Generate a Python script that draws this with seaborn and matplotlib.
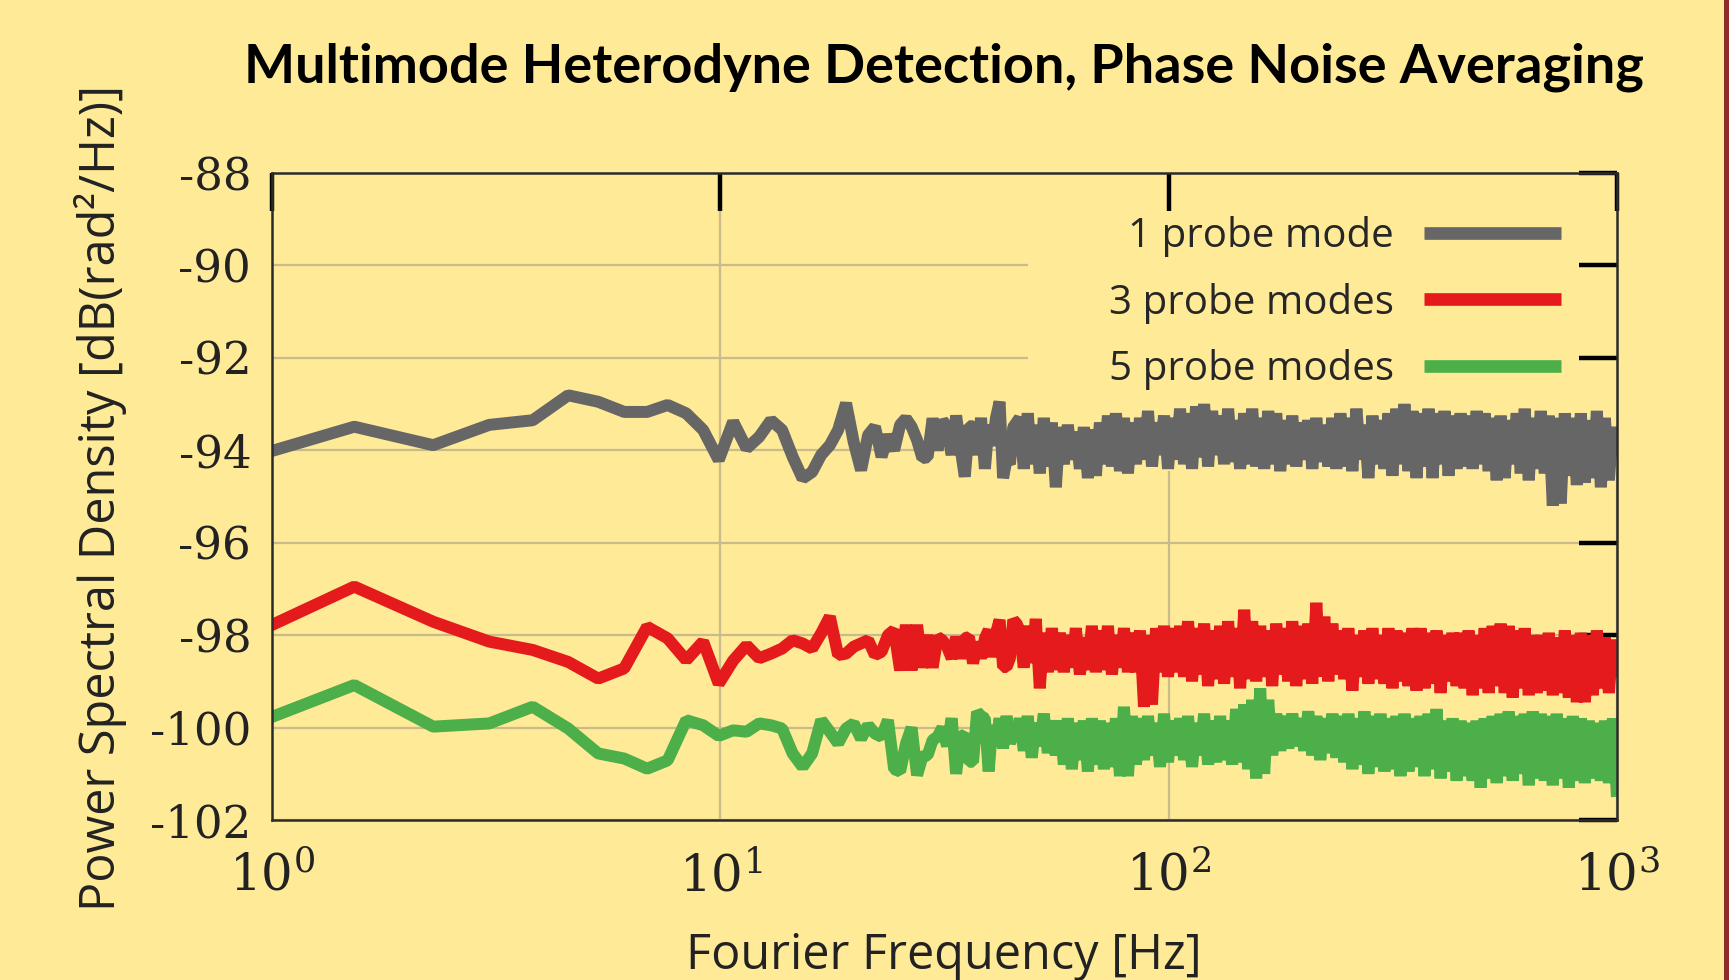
import numpy as np
import pandas as pd
import matplotlib
matplotlib.use("Agg")
import matplotlib.pyplot as plt
import seaborn as sns
from matplotlib.patches import Rectangle
from matplotlib.ticker import FixedLocator, FixedFormatter, NullLocator

# ---------------- data ----------------
BIN_HZ = 100000 / 131072          # FFT bin width [Hz]
low_bins = np.arange(1, 61)        # individual bins (k = 1 .. 60)
high_bins = np.geomspace(61, 1310, 150)   # decimated bins up to ~1 kHz

series_labels = ["1 probe mode", "3 probe modes", "5 probe modes"]
series_colors = ["#666666", "#E41A1C", "#4DAF4A"]

gray_low = [-94.35, -93.49, -93.89, -93.45, -93.35, -92.81, -92.95, -93.17, -93.17, -93.02,
            -93.20, -93.56, -94.21, -93.38, -93.96, -93.71, -93.35, -93.56, -94.14, -94.61,
            -94.47, -94.10, -93.89, -93.56, -92.98, -93.82, -94.43, -93.67, -93.49, -94.14,
            -93.67, -94.00, -93.45, -93.31, -93.49, -93.78, -94.17, -94.15, -93.31, -94.00,
            -93.35, -93.50, -94.10, -93.25, -93.95, -94.57, -93.48, -93.48, -94.10, -93.30,
            -94.40, -93.45, -93.90, -93.30, -92.95, -94.60, -94.20, -94.30, -93.50, -93.40]
gray_high = [-93.30, -94.40, -93.20, -94.30, -93.45, -94.50, -93.30, -94.35, -93.40, -94.80,
             -93.50, -94.30, -93.45, -94.20, -93.60, -94.40, -93.50, -94.60, -93.55, -94.55,
             -93.40, -94.30, -93.25, -94.35, -93.20, -94.45, -93.30, -94.50, -93.40, -94.30,
             -93.30, -94.20, -93.15, -94.35, -93.40, -94.10, -93.25, -94.40, -93.30, -94.20,
             -93.10, -94.30, -93.20, -94.40, -93.05, -94.15, -93.00, -94.35, -93.15, -94.10,
             -93.25, -94.30, -93.10, -94.25, -93.35, -94.40, -93.20, -94.30, -93.10, -94.35,
             -93.30, -94.40, -93.15, -94.30, -93.20, -94.45, -93.35, -94.30, -93.25, -94.35,
             -93.40, -94.20, -93.35, -94.40, -93.30, -94.25, -93.45, -94.35, -93.30, -94.40,
             -93.20, -94.35, -93.30, -94.45, -93.10, -94.20, -93.45, -94.60, -93.25, -94.30,
             -93.35, -94.40, -93.20, -94.55, -93.10, -94.30, -93.00, -94.45, -93.15, -94.60,
             -93.20, -94.35, -93.10, -94.60, -93.20, -94.30, -93.15, -94.55, -93.25, -94.40,
             -93.20, -94.35, -93.25, -94.40, -93.15, -94.30, -93.20, -94.45, -93.30, -94.65,
             -93.25, -94.60, -93.35, -94.30, -93.20, -94.50, -93.10, -94.65, -93.30, -94.40,
             -93.15, -94.50, -93.25, -95.20, -93.30, -95.15, -93.20, -94.55, -93.30, -94.75,
             -93.20, -94.70, -93.35, -94.60, -93.15, -94.80, -93.30, -94.65, -93.50, -94.10]

red_low = [-98.31, -96.95, -97.71, -98.14, -98.32, -98.58, -98.94, -98.72, -97.82, -98.07,
           -98.54, -98.14, -99.05, -98.55, -98.22, -98.50, -98.40, -98.29, -98.11, -98.18,
           -98.29, -97.96, -97.60, -98.43, -98.40, -98.25, -98.18, -98.11, -98.43, -98.36,
           -98.00, -97.89, -98.76, -97.78, -98.76, -97.78, -98.70, -98.00, -98.70, -98.04,
           -98.11, -98.25, -98.50, -98.04, -98.50, -98.07, -98.04, -98.61, -98.15, -98.50,
           -98.07, -97.89, -98.47, -97.96, -97.67, -98.69, -98.69, -98.50, -97.67, -97.75]
red_high = [-97.90, -98.70, -97.80, -98.60, -97.65, -99.15, -97.95, -98.80, -97.85, -98.75,
            -97.95, -98.80, -98.00, -98.70, -97.85, -98.85, -98.05, -98.75, -97.80, -98.80,
            -97.90, -98.75, -97.80, -98.85, -98.00, -98.70, -97.85, -98.80, -97.95, -98.80,
            -97.90, -99.55, -98.00, -99.50, -97.85, -98.80, -97.80, -98.90, -97.85, -98.80,
            -97.80, -98.90, -97.70, -99.00, -97.85, -98.85, -97.75, -99.10, -97.90, -98.95,
            -97.80, -99.05, -97.70, -98.90, -97.85, -99.15, -97.45, -98.95, -97.70, -99.00,
            -97.80, -98.90, -97.90, -99.10, -97.75, -98.85, -97.85, -99.00, -97.70, -99.10,
            -97.80, -98.95, -97.75, -99.05, -97.30, -98.90, -97.60, -99.00, -97.75, -98.85,
            -97.90, -98.95, -97.85, -99.20, -98.00, -98.90, -97.90, -99.05, -97.85, -98.95,
            -98.00, -99.05, -97.85, -99.15, -97.90, -99.00, -97.95, -99.10, -97.85, -99.20,
            -97.85, -99.15, -97.95, -99.05, -97.90, -99.25, -98.00, -99.00, -97.95, -99.10,
            -97.95, -99.15, -97.90, -99.30, -98.00, -99.15, -97.85, -99.25, -97.80, -99.10,
            -97.75, -99.25, -97.80, -99.35, -97.90, -99.15, -97.85, -99.30, -98.00, -99.25,
            -98.00, -99.20, -97.95, -99.30, -98.05, -99.25, -97.90, -99.35, -98.00, -99.45,
            -97.95, -99.45, -98.00, -99.30, -97.90, -99.15, -98.05, -99.25, -98.10, -98.90]

green_low = [-100.21, -99.08, -99.98, -99.91, -99.55, -100.02, -100.56, -100.67, -100.89, -100.71,
             -99.84, -99.95, -100.18, -100.06, -100.09, -99.91, -99.95, -100.02, -100.56, -100.85,
             -100.56, -99.84, -100.09, -100.34, -100.02, -99.91, -100.24, -99.95, -100.13, -100.20,
             -99.84, -100.90, -100.95, -100.35, -100.00, -101.03, -100.63, -100.60, -100.27, -100.20,
             -100.00, -100.40, -99.80, -101.00, -100.20, -100.15, -100.74, -100.74, -99.66, -99.75,
             -99.80, -100.95, -99.95, -100.40, -99.80, -100.45, -99.75, -100.34, -100.13, -100.27]
green_high = [-99.80, -100.50, -99.75, -100.65, -99.90, -100.40, -99.70, -100.55, -99.85, -100.60,
              -99.85, -100.80, -99.80, -100.90, -99.90, -100.70, -99.85, -100.95, -99.80, -100.80,
              -99.85, -100.90, -99.90, -100.85, -99.80, -101.05, -99.55, -101.05, -99.75, -100.80,
              -99.80, -100.70, -99.75, -100.60, -99.90, -100.85, -99.70, -100.75, -99.85, -100.60,
              -99.80, -100.70, -99.75, -100.85, -99.90, -100.60, -99.70, -100.80, -99.85, -100.75,
              -99.75, -100.70, -99.85, -100.80, -99.60, -100.75, -99.50, -100.90, -99.40, -101.10,
              -99.15, -101.00, -99.40, -100.60, -99.70, -100.50, -99.75, -100.45, -99.70, -100.40,
              -99.80, -100.50, -99.65, -100.60, -99.75, -100.70, -99.80, -100.55, -99.70, -100.65,
              -99.75, -100.75, -99.70, -100.90, -99.80, -100.80, -99.65, -101.00, -99.75, -100.85,
              -99.70, -100.95, -99.80, -100.90, -99.75, -101.05, -99.70, -100.95, -99.80, -100.85,
              -99.75, -101.05, -99.70, -100.90, -99.60, -101.10, -99.85, -100.95, -99.80, -101.15,
              -99.85, -101.05, -99.90, -101.15, -99.85, -101.30, -99.80, -101.10, -99.75, -101.20,
              -99.70, -101.05, -99.65, -101.15, -99.75, -101.00, -99.70, -101.25, -99.65, -101.10,
              -99.70, -101.15, -99.75, -101.25, -99.70, -101.10, -99.80, -101.30, -99.75, -101.15,
              -99.80, -101.20, -99.85, -101.10, -99.90, -101.15, -99.85, -101.20, -99.80, -101.50]

x_ticks = [1, 10, 100, 1000]
x_tick_labels = ["$10^{0}$", "$10^{1}$", "$10^{2}$", "$10^{3}$"]
y_ticks = [-102, -100, -98, -96, -94, -92, -90, -88]
y_tick_labels = ["-102", "-100", "-98", "-96", "-94", "-92", "-90", "-88"]

title_text = "Multimode Heterodyne Detection, Phase Noise Averaging"
x_label = "Fourier Frequency [Hz]"
y_label = "Power Spectral Density [dB(rad\u00b2/Hz)]"

# ---------------- build frame ----------------
freqs = BIN_HZ * np.concatenate([low_bins, high_bins])
frames = []
for lab, lo, hi in zip(series_labels, [gray_low, red_low, green_low],
                       [gray_high, red_high, green_high]):
    frames.append(pd.DataFrame({"freq": freqs,
                                "psd": np.concatenate([lo, hi]),
                                "series": lab}))
df = pd.concat(frames, ignore_index=True)

# ---------------- style ----------------
BG = "#FFEA98"
sns.set_style("white")
plt.rcParams["font.family"] = ["Open Sans", "DejaVu Sans"]
plt.rcParams["mathtext.fontset"] = "dejavuserif"
plt.rcParams["axes.unicode_minus"] = False

fig = plt.figure(figsize=(17.29, 9.8), dpi=100, facecolor=BG)
ax = fig.add_axes([272 / 1729, 160 / 980, 1345 / 1729, 647 / 980])
ax.set_facecolor(BG)

sns.lineplot(data=df, x="freq", y="psd", hue="series", hue_order=series_labels,
             palette=series_colors, estimator=None, sort=False, linewidth=8.6,
             legend=False, ax=ax)
for ln in ax.lines:
    ln.set_solid_joinstyle("bevel")
    ln.set_solid_capstyle("butt")
    ln.set_zorder(2)

ax.set_xscale("log")
ax.set_xlim(1, 1000)
ax.set_ylim(-102, -88)

ax.xaxis.set_major_locator(FixedLocator(x_ticks))
ax.xaxis.set_major_formatter(FixedFormatter(x_tick_labels))
ax.xaxis.set_minor_locator(NullLocator())
ax.yaxis.set_major_locator(FixedLocator(y_ticks))
ax.yaxis.set_major_formatter(FixedFormatter(y_tick_labels))
ax.yaxis.set_minor_locator(NullLocator())

ax.tick_params(which="major", direction="in", length=27.5, width=3.2, color="black",
               top=True, right=True, labeltop=False, labelright=False)
ax.tick_params(axis="y", pad=15, labelsize=32.5, labelcolor="#222222")
ax.tick_params(axis="x", pad=24, labelsize=36, labelcolor="#222222")
for lab in ax.get_yticklabels():
    lab.set_fontfamily("DejaVu Serif")

for s in ax.spines.values():
    s.set_color("#2b2b2b")
    s.set_linewidth(1.8)
    s.set_zorder(3)

# grid lines drawn at the tick values, beneath the legend box
grid_kw = dict(color="#C9BB8B", linewidth=1.6, zorder=0.3)
for yv in y_ticks:
    ax.axhline(yv, **grid_kw)
for xv in x_ticks:
    ax.axvline(xv, **grid_kw)
ax.grid(False)
ax.set_xlabel("")
ax.set_ylabel("")

leg = ax.legend(ax.lines[:3], series_labels, loc="upper right",
                bbox_to_anchor=(1.0186, 1.0584), borderaxespad=0,
                markerfirst=False, frameon=True, fancybox=False,
                facecolor=BG, edgecolor="none", framealpha=1,
                prop={"family": "Open Sans", "size": 29},
                borderpad=2.0, labelspacing=0.64, handlelength=3.42,
                handletextpad=0.74, handleheight=0.7)
leg.set_zorder(0.4)
for h in leg.get_lines():
    h.set_linewidth(9.1)
    h.set_solid_capstyle("butt")

fig.text(944 / 1729, 1 - 83 / 980, title_text, ha="center", va="baseline",
         fontsize=39, fontweight="bold", color="black", family=["Lato", "DejaVu Sans"])
fig.text(944 / 1729, 1 - 969 / 980, x_label, ha="center", va="baseline",
         fontsize=35, color="#222222")
fig.text(115 / 1729, 1 - 498 / 980, y_label, rotation=90, rotation_mode="anchor",
         ha="center", va="baseline", fontsize=35, color="#222222")

fig.add_artist(Rectangle((1 - 5 / 1729, 0), 5 / 1729, 1, transform=fig.transFigure,
                         facecolor="#8E2B2B", edgecolor="none"))

fig.savefig("out.png", dpi=100, facecolor=BG)
